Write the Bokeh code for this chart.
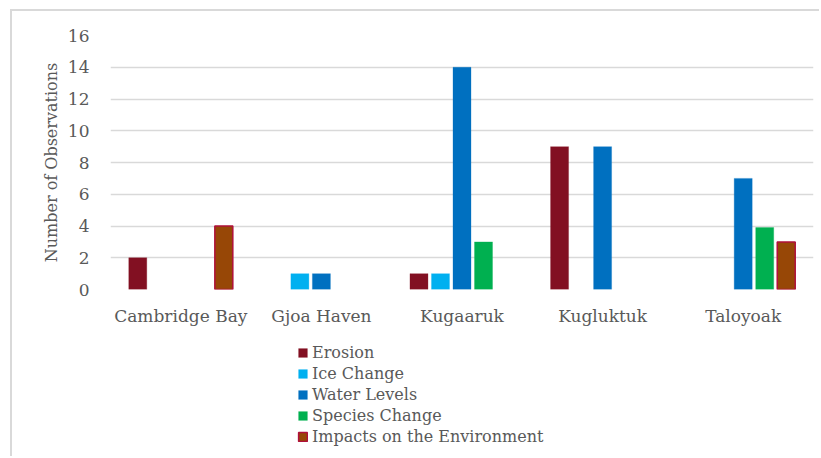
from bokeh.plotting import figure
from bokeh.layouts import column
from bokeh.models import (ColumnDataSource, FactorRange, Range1d, Legend, LegendItem,
                          FixedTicker)
from bokeh.transform import dodge
from bokeh.embed import file_html
from bokeh.resources import INLINE

towns = ["Cambridge Bay", "Gjoa Haven", "Kugaaruk", "Kugluktuk", "Taloyoak"]
series_names = ["Erosion", "Ice Change", "Water Levels", "Species Change", "Impacts on the Environment"]
erosion = [2, 0, 1, 9, 0]
ice_change = [0, 1, 1, 0, 0]
water_levels = [0, 1, 14, 9, 7]
species_change = [0, 0, 3, 0, 3.9]
impacts = [4, 0, 0, 0, 3]
y_ticks = [0, 2, 4, 6, 8, 10, 12, 14, 16]

series_values = [erosion, ice_change, water_levels, species_change, impacts]
fills = ["#821022", "#00B0F0", "#0070C0", "#00B050", "#974706"]
lines = [None, None, None, None, "#B0103A"]
offsets = [-0.306, -0.153, 0.0, 0.153, 0.306]

FONT = "DejaVu Serif"
TXT = "#595959"

# main chart
p = figure(width=809, height=331, x_range=FactorRange(*towns), y_range=Range1d(0, 16),
           output_backend="svg", toolbar_location=None)
p.min_border_left = 98
p.min_border_right = 8
p.min_border_top = 24
p.min_border_bottom = 53
p.outline_line_color = None
p.background_fill_color = "white"
p.border_fill_color = "white"

# legend strip
p2 = figure(width=809, height=116, x_range=Range1d(0, 1), y_range=Range1d(0, 1),
            x_axis_type=None, y_axis_type=None,
            output_backend="svg", toolbar_location=None)
p2.min_border = 0
p2.outline_line_color = None
p2.grid.grid_line_color = None
p2.border_fill_color = "white"

items = []
for name, vals, fc, lc, off in zip(series_names, series_values, fills, lines, offsets):
    xs = [t for t, v in zip(towns, vals) if v > 0]
    ys = [v for v in vals if v > 0]
    src = ColumnDataSource(dict(town=xs, top=ys))
    kw = dict(fill_color=fc, line_color=lc if lc else fc, line_width=1.5 if lc else 0.5,
              line_alpha=1.0 if lc else 0.6)
    p.vbar(x=dodge("town", off, range=p.x_range), top="top", width=0.128, source=src, **kw)
    # proxy with no drawable bar, only used for the legend swatch
    proxy = p2.vbar(x=[0.5], top=[float("nan")], bottom=[float("nan")], width=0.1, **kw)
    items.append(LegendItem(label=name, renderers=[proxy]))

p.xgrid.grid_line_color = None
p.ygrid.grid_line_color = "#D9D9D9"
p.ygrid.grid_line_width = 1.5
p.yaxis.ticker = FixedTicker(ticks=y_ticks)

for ax in (p.xaxis[0], p.yaxis[0]):
    ax.axis_line_color = None
    ax.major_tick_line_color = None
    ax.minor_tick_line_color = None
    ax.major_label_text_font = FONT
    ax.major_label_text_color = TXT
    ax.major_label_text_font_size = "17px"

p.xaxis.major_label_standoff = 10
p.yaxis.major_label_standoff = 15
p.yaxis.axis_label = "Number of Observations"
p.yaxis.axis_label_text_font = FONT
p.yaxis.axis_label_text_font_style = "normal"
p.yaxis.axis_label_text_color = TXT
p.yaxis.axis_label_text_font_size = "16px"
p.yaxis.axis_label_standoff = 4

legend = Legend(items=items, location=(187, 12), orientation="vertical")
legend.label_text_font = FONT
legend.label_text_font_size = "16px"
legend.label_text_color = TXT
legend.glyph_width = 11
legend.glyph_height = 11
legend.label_height = 19
legend.spacing = 2
legend.label_standoff = 4
legend.padding = 0
legend.margin = 0
legend.border_line_color = None
legend.background_fill_alpha = 0
p2.add_layout(legend, "center")

layout = column(p, p2, spacing=0)
layout.margin = (11, 0, 0, 12)
layout.styles = {"box-shadow": "-2px -2px 0 0 #D9D9D9"}

open("out.html", "w").write(file_html(layout, INLINE))
